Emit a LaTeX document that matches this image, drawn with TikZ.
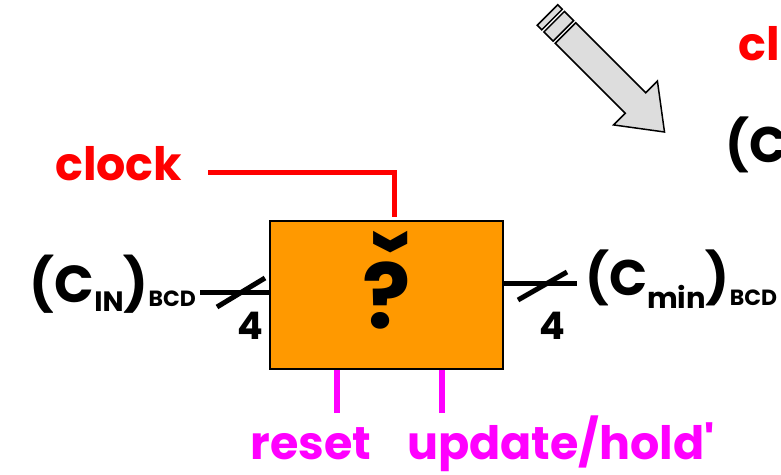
\documentclass[tikz,border=0pt]{standalone}
\usepackage{fontspec}
\setmainfont{Poppins}
\usetikzlibrary{positioning}
\definecolor{boxorange}{RGB}{255,153,0}
\definecolor{arrowgray}{RGB}{221,221,221}
\definecolor{ctrlpink}{RGB}{255,0,255}
\definecolor{clockred}{RGB}{255,0,0}
\tikzset{
  txt/.style={font=\bfseries\fontsize{46}{52}\selectfont, inner sep=0pt},
  bus/.style={line width=5pt, black},
  clockline/.style={line width=5pt, clockred},
  ctrl/.style={line width=6pt, ctrlpink},
  blockarrow/.style={fill=arrowgray, draw=black, line width=1.5pt, line join=miter},
}
\newcommand{\lowtxt}[3]{\raisebox{#1}{\fontsize{#2}{#2}\selectfont #3}}

\begin{document}
\begin{tikzpicture}[x=1pt,y=-1pt]
            \useasboundingbox (0,0) rectangle (781,474);
            \clip (0,0) rectangle (781,474);

            \node[draw, line width=2.5pt, fill=boxorange, minimum width=233pt, minimum height=148pt, inner sep=0pt] (box) at (386.5,295) {};
            \node[txt, font=\bfseries\fontsize{90}{90}\selectfont] (qmark) at (387,296) {?};
            \node[txt, font=\bfseries\fontsize{110}{110}\selectfont, anchor=north] (caron) at (391,231) {ˇ};

            % clock input
            \node[txt, clockred, anchor=base west] (clk) at (55,180) {clock};
            \coordinate (clkend) at (208,172);
            \coordinate (clkin) at (394,217);
            \draw[clockline] (clkend) -| (clkin);

            % data in and out
            \node[txt, font=\bfseries\fontsize{52}{56}\selectfont, anchor=base east] (cin) at (196,302) {(C\lowtxt{-9pt}{28}{IN})\lowtxt{-4pt}{22}{BCD}};
            \coordinate (inend) at (200,292);
            \draw[bus] (inend) -- (inend -| box.west);
            \draw[bus] (217,307) -- (265,278);
            \node[txt, font=\bfseries\fontsize{38}{38}\selectfont] (nin) at (250,326) {4};

            \node[txt, font=\bfseries\fontsize{50}{56}\selectfont, anchor=base west] (cmin) at (585,295) {(C\lowtxt{-13pt}{29}{min})\lowtxt{-10pt}{22}{BCD}};
            \coordinate (outend) at (577,283);
            \draw[bus] (outend -| box.east) -- (outend);
            \draw[bus] (518,300) -- (567,272);
            \node[txt, font=\bfseries\fontsize{38}{38}\selectfont] (nout) at (552,326) {4};

            % control inputs
            \node[txt, ctrlpink, anchor=base] (rstlbl) at (311,459) {reset};
            \node[txt, ctrlpink, anchor=base] (updlbl) at (561,459) {update/hold\textquotesingle};
            \coordinate (rst) at (337,413);
            \coordinate (upd) at (442,413);
            \draw[ctrl] (rst) -- (rst |- box.south);
            \draw[ctrl] (upd) -- (upd |- box.south);

            % grey arrow and the cut-off texts top right
            \begin{scope}[shift={(565.5,33)}, rotate=-45]
                \filldraw[blockarrow] (0,-14.5) -- (99,-14.5) -- (99,-31) -- (140,0) -- (99,31) -- (99,14.5) -- (0,14.5) -- cycle;
                \filldraw[blockarrow] (-16,-14.5) rectangle (-3,14.5);
                \filldraw[blockarrow] (-25.5,-14.5) rectangle (-19,14.5);
            \end{scope}
            \node[txt, clockred, anchor=base west] (clktop) at (738,60) {cl};
            \node[txt, font=\bfseries\fontsize{50}{56}\selectfont, anchor=base west] (ctop) at (725,162) {(C};
        \end{tikzpicture}
\end{document}
